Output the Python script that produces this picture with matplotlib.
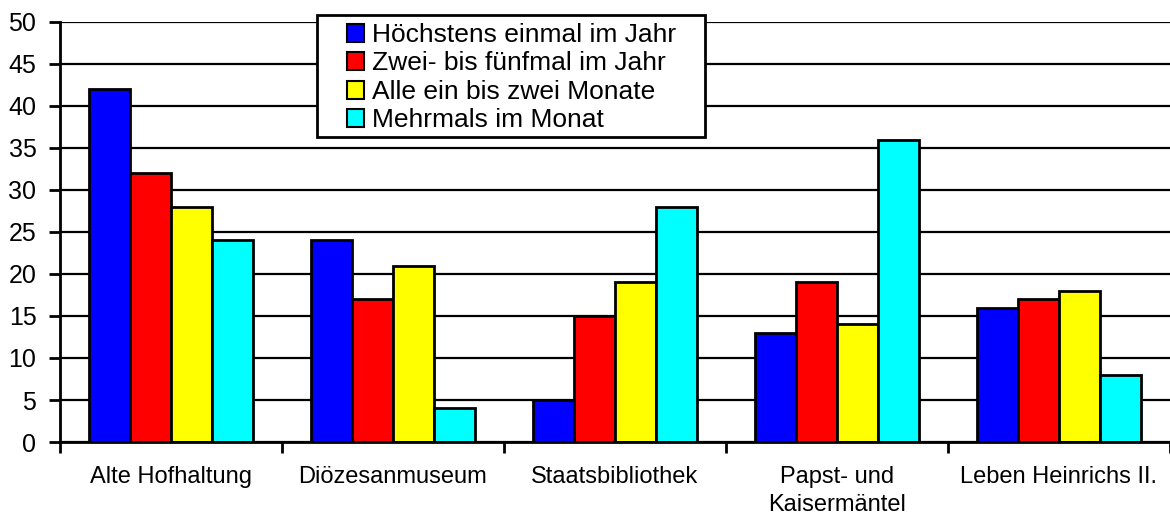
import matplotlib
matplotlib.use("Agg")
import matplotlib.pyplot as plt
from matplotlib.patches import Rectangle
import numpy as np

categories = ["Alte Hofhaltung", "Diözesanmuseum", "Staatsbibliothek",
              "Papst- und\nKaisermäntel", "Leben Heinrichs II."]
series_names = ["Höchstens einmal im Jahr", "Zwei- bis fünfmal im Jahr",
                "Alle ein bis zwei Monate", "Mehrmals im Monat"]
hoechstens = [42, 24, 5, 13, 16]
zwei_fuenf = [32, 17, 15, 19, 17]
monate = [28, 21, 19, 14, 18]
mehrmals = [24, 4, 28, 36, 8]
colors = ["#0000ff", "#ff0000", "#ffff00", "#00ffff"]

plt.rcParams['font.family'] = ['Liberation Sans', 'DejaVu Sans']

W, H = 1170, 519
fig = plt.figure(figsize=(W / 100, H / 100), dpi=100)
ax = fig.add_axes([60/W, 1-442/H, 1-60/W, (442-22)/H])

x = np.arange(len(categories))
w = 0.185
data = [hoechstens, zwei_fuenf, monate, mehrmals]
for i, (vals, c, name) in enumerate(zip(data, colors, series_names)):
    ax.bar(x + (i - 1.5) * w, vals, width=w, color=c, edgecolor='black',
           linewidth=2, label=name, zorder=3)

ax.set_xlim(-0.5, len(categories) - 0.5)
ax.set_ylim(0, 50)
ax.set_yticks(np.arange(0, 51, 5))
ax.yaxis.grid(True, color='black', linewidth=1.6, zorder=0)
ax.set_axisbelow(True)

ax.set_xticks(x)
ax.set_xticklabels(categories, fontsize=17, linespacing=1.35)
ax.set_xticks(np.arange(-0.5, len(categories) + 0.5, 1), minor=True)
ax.tick_params(axis='x', which='major', length=0, pad=17)
ax.tick_params(axis='x', which='minor', length=8, width=2, color='black')
ax.tick_params(axis='y', length=8, width=2, labelsize=18, pad=9)

for s in ['top', 'right']:
    ax.spines[s].set_visible(False)
for s in ['left', 'bottom']:
    ax.spines[s].set_linewidth(2)
    ax.spines[s].set_zorder(4)

# legend frame box
box = Rectangle((317/W, 1-137/H), (705-317)/W, (137-15)/H,
                transform=fig.transFigure, facecolor='white',
                edgecolor='black', linewidth=2, zorder=4.5, clip_on=False)
ax.add_artist(box)

leg = ax.legend(loc='upper left', bbox_to_anchor=(347/W, 1-23/H),
                bbox_transform=fig.transFigure,
                fontsize=19, frameon=False,
                handlelength=0.65, handleheight=0.65,
                handletextpad=0.3, labelspacing=0.17, borderpad=0,
                borderaxespad=0)
for p in leg.get_patches():
    p.set_linewidth(1.5)
leg.set_zorder(5)

fig.savefig("out.png", dpi=100)
